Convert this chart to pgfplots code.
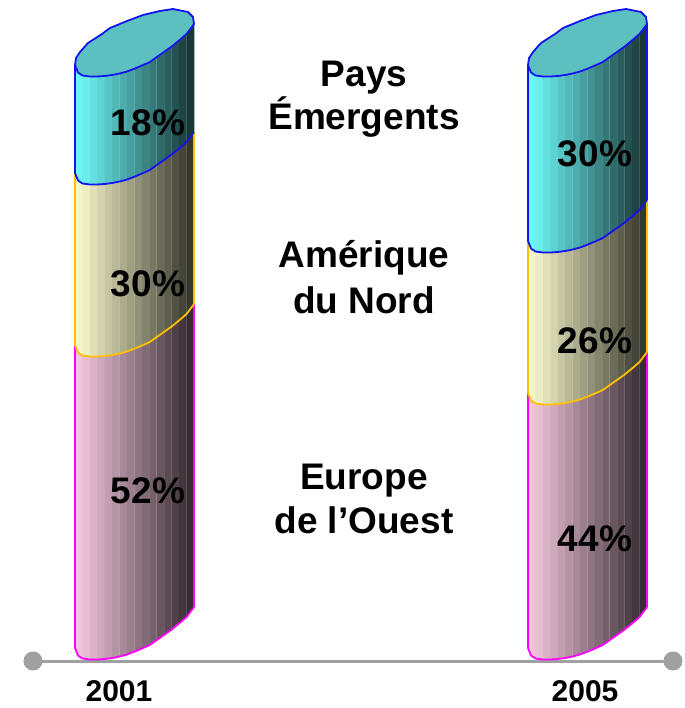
\documentclass[border=0pt]{standalone}
\usepackage{fontspec}
\setmainfont{Liberation Sans}
\usepackage{pgfplots}
\pgfplotsset{compat=1.18}
\usepackage{pgfplotstable}

\definecolor{tealtop}{RGB}{92,192,192}
\definecolor{edgeblue}{RGB}{20,20,240}
\definecolor{edgegold}{RGB}{255,192,0}
\definecolor{edgepink}{RGB}{255,0,255}
\definecolor{linegray}{RGB}{160,160,160}

\tikzset{
  big/.style={font=\fontsize{37}{37}\selectfont\bfseries, anchor=base, inner sep=0pt},
  yr/.style={font=\fontsize{30}{30}\selectfont\bfseries, anchor=base, inner sep=0pt},
}

% front edges of the stacked slices, in picture pixels
\pgfplotstableread{
x      base  pink  yellow teal
75     648   345   173    65
78     655.5 352.5 180.5  72.5
82.44  658.5 355.5 183.5  75.5
89.88  659.5 356.5 184.5  76.5
97.31  659.5 356.5 184.5  76.5
104.75 659   356   184    76
112.19 658   355   183    75
119.63 656.5 353.5 181.5  73.5
127.06 654.5 351.5 179.5  71.5
134.5  651.7 348.7 176.7  68.7
141.94 648.5 345.5 173.5  65.5
149.38 645.3 342.3 170.3  62.3
156.81 640   337   165    57
164.25 634.8 331.8 159.8  51.8
171.69 629.5 326.5 154.5  46.5
179.13 623.4 320.4 148.4  40.4
186.56 617   314   142    34
194    607   304   132    24
}\cylA
\pgfplotstableread{
x      base  pink  yellow teal
528    648   393   241    65
531    655.5 400.5 248.5  72.5
535.44 658.5 403.5 251.5  75.5
542.88 659.5 404.5 252.5  76.5
550.31 659.5 404.5 252.5  76.5
557.75 659   404   252    76
565.19 658   403   251    75
572.63 656.5 401.5 249.5  73.5
580.06 654.5 399.5 247.5  71.5
587.5  651.7 396.7 244.7  68.7
594.94 648.5 393.5 241.5  65.5
602.38 645.3 390.3 238.3  62.3
609.81 640   385   233    57
617.25 634.8 379.8 227.8  51.8
624.69 629.5 374.5 222.5  46.5
632.13 623.4 368.4 216.4  40.4
639.56 617   362   210    34
647    607   352   200    24
}\cylB
% rim of the top face, back then front
\pgfplotstableread{
xa     xb     y
194    647    24
193    646    17
188    641    12
173    626    9
160    613    11
143    596    15
127    580    21
110    563    28
102    555    34
88     541    43
80     533    52
76     529    58
75     528    65
78     531    72.5
82.44  535.44 75.5
89.88  542.88 76.5
97.31  550.31 76.5
104.75 557.75 76
112.19 565.19 75
119.63 572.63 73.5
127.06 580.06 71.5
134.5  587.5  68.7
141.94 594.94 65.5
149.38 602.38 62.3
156.81 609.81 57
164.25 617.25 51.8
171.69 624.69 46.5
179.13 632.13 40.4
186.56 639.56 34
}\rim

% #1 table, #2 lower column, #3 upper column, #4 left edge, #5 #6 #7 colour at the lit side
\newcommand\slice[7]{%
  \foreach \i in {0,...,16}{%
    \pgfmathtruncatemacro\j{\i+1}
    \pgfplotstablegetelem{\i}{x}\of{#1}\let\xa\pgfplotsretval
    \pgfplotstablegetelem{\j}{x}\of{#1}\let\xb\pgfplotsretval
    \pgfplotstablegetelem{\i}{#2}\of{#1}\let\lowa\pgfplotsretval
    \pgfplotstablegetelem{\j}{#2}\of{#1}\let\lowb\pgfplotsretval
    \pgfplotstablegetelem{\i}{#3}\of{#1}\let\upa\pgfplotsretval
    \pgfplotstablegetelem{\j}{#3}\of{#1}\let\upb\pgfplotsretval
    \pgfmathsetmacro\fac{1-0.78*(\xa-#4)/112}
    \pgfmathsetmacro\xo{\xb+0.4}
    \pgfmathtruncatemacro\cr{#5*\fac}
    \pgfmathtruncatemacro\cg{#6*\fac}
    \pgfmathtruncatemacro\cb{#7*\fac}
    \pgfmathtruncatemacro\hr{\cr+(255-\cr)*0.22}
    \pgfmathtruncatemacro\hg{\cg+(255-\cg)*0.22}
    \pgfmathtruncatemacro\hb{\cb+(255-\cb)*0.22}
    \edef\temp{\noexpand\addplot[draw=none,fill={rgb,255:red,\cr;green,\cg;blue,\cb}]
      coordinates {(\xa,\lowa) (\xo,\lowb) (\xo,\upb) (\xa,\upa)} --cycle;}
    \temp
    \ifnum\i>5 \ifnum\i<16
    \edef\temp{\noexpand\addplot[line width=0.7pt,color={rgb,255:red,\hr;green,\hg;blue,\hb}]
      coordinates {(\xb,\lowb) (\xb,\upb)};}
    \temp
    \fi\fi
  }%
}

\begin{document}
\begin{tikzpicture}
\begin{axis}[
  hide axis,
  scale only axis,
  width=684pt, height=708pt,
  xmin=0, xmax=684, ymin=0, ymax=708,
  y dir=reverse,
  clip=false,
]
  \path[use as bounding box] (axis cs:0,0) rectangle (axis cs:684,708);

  % time line
  \addplot[linegray, line width=3pt, mark=*, mark size=8pt, mark options={fill=linegray,draw=none}]
    coordinates {(33,661) (673,661)};

  \slice{\cylA}{base}{pink}{75}{245}{200}{222}
  \slice{\cylA}{pink}{yellow}{75}{250}{250}{205}
  \slice{\cylA}{yellow}{teal}{75}{112}{250}{250}
  \slice{\cylB}{base}{pink}{528}{245}{200}{222}
  \slice{\cylB}{pink}{yellow}{528}{250}{250}{205}
  \slice{\cylB}{yellow}{teal}{528}{112}{250}{250}

  % outlines, cylinder 2001
  \addplot[edgepink, line width=1.8pt] coordinates {(75,345) (75,648)};
  \addplot[edgepink, line width=1.8pt] coordinates {(194,304) (194,607)};
  \addplot[edgepink, line width=1.8pt] table[x=x,y=base] {\cylA};
  \addplot[edgegold, line width=1.8pt] coordinates {(75,173) (75,345)};
  \addplot[edgegold, line width=1.8pt] coordinates {(194,132) (194,304)};
  \addplot[edgegold, line width=1.8pt] table[x=x,y=pink] {\cylA};
  \addplot[edgeblue, line width=1.8pt] coordinates {(75,65) (75,173)};
  \addplot[edgeblue, line width=1.8pt] table[x=x,y=yellow] {\cylA};

  % outlines, cylinder 2005
  \addplot[edgepink, line width=1.8pt] coordinates {(528,393) (528,648)};
  \addplot[edgepink, line width=1.8pt] coordinates {(647,352) (647,607)};
  \addplot[edgepink, line width=1.8pt] table[x=x,y=base] {\cylB};
  \addplot[edgegold, line width=1.8pt] coordinates {(528,241) (528,393)};
  \addplot[edgegold, line width=1.8pt] coordinates {(647,200) (647,352)};
  \addplot[edgegold, line width=1.8pt] table[x=x,y=pink] {\cylB};
  \addplot[edgeblue, line width=1.8pt] coordinates {(528,65) (528,241)};
  \addplot[edgeblue, line width=1.8pt] coordinates {(647,24) (647,200)};
  \addplot[edgeblue, line width=1.8pt] table[x=x,y=yellow] {\cylB};

  % top faces
  \addplot[draw=edgeblue, line width=1.8pt, fill=tealtop] table[x=xa,y=y] {\rim} --cycle;
  \addplot[draw=edgeblue, line width=1.8pt, fill=tealtop] table[x=xb,y=y] {\rim} --cycle;

  % percentages
  \node[big] at (axis cs:148,136) {18\%};
  \node[big] at (axis cs:148,296) {30\%};
  \node[big] at (axis cs:148,503) {52\%};
  \node[big] at (axis cs:595,167) {30\%};
  \node[big] at (axis cs:595,353) {26\%};
  \node[big] at (axis cs:595,551) {44\%};

  % regions
  \node[big] at (axis cs:364,87)  {Pays};
  \node[big] at (axis cs:364,130) {Émergents};
  \node[big] at (axis cs:364,267) {Amérique};
  \node[big] at (axis cs:364,313) {du Nord};
  \node[big] at (axis cs:364,489) {Europe};
  \node[big] at (axis cs:364,533) {de l’Ouest};

  % years
  \node[yr] at (axis cs:119,701.5) {2001};
  \node[yr] at (axis cs:585,701.5) {2005};
\end{axis}
\end{tikzpicture}
\end{document}
